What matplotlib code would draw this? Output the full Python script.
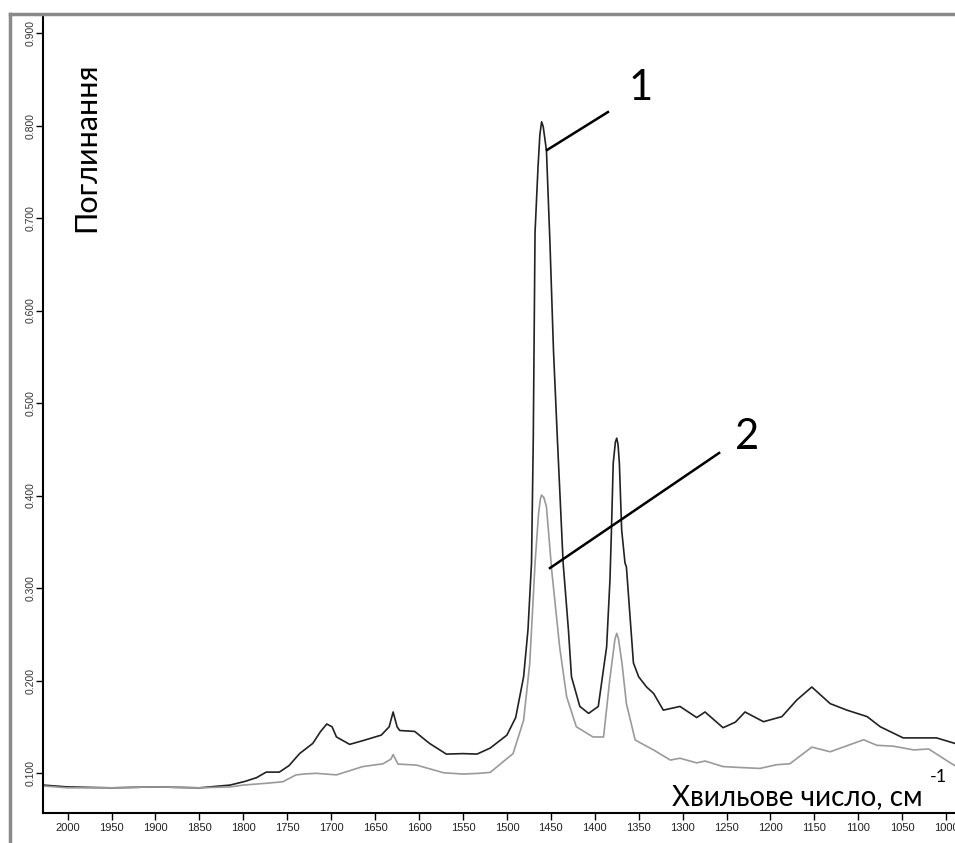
import numpy as np
import matplotlib.pyplot as plt
from matplotlib.lines import Line2D

# Спектр 1 (темна крива)
wn1 = [2028, 2000, 1950, 1900, 1850, 1815, 1798, 1785, 1774, 1759, 1748, 1736, 1721, 1712,
       1705, 1699, 1694, 1679, 1664, 1643, 1634, 1629.5, 1625, 1622, 1605, 1588, 1569, 1550,
       1534, 1519, 1500, 1490, 1481, 1476, 1472, 1470, 1468, 1464.6, 1462.5, 1460.5, 1458.7,
       1455, 1451, 1447, 1442.5, 1436, 1430, 1426.5, 1417, 1407, 1396, 1386.5, 1382.7, 1381,
       1379, 1376.5, 1375, 1373.5, 1372, 1369.4, 1365.6, 1364, 1356, 1350, 1341, 1333, 1322,
       1303, 1284, 1274.5, 1254, 1240, 1229, 1208, 1187, 1170, 1153, 1132, 1113, 1090, 1075,
       1049, 1026, 1011, 997, 990]
abs1 = [0.087, 0.085, 0.084, 0.085, 0.084, 0.087, 0.091, 0.095, 0.101, 0.101, 0.108, 0.121,
        0.132, 0.145, 0.153, 0.150, 0.139, 0.131, 0.135, 0.141, 0.150, 0.166, 0.150, 0.146,
        0.145, 0.132, 0.1205, 0.121, 0.1205, 0.127, 0.141, 0.160, 0.204, 0.255, 0.327, 0.46,
        0.684, 0.755, 0.790, 0.804, 0.799, 0.773, 0.673, 0.557, 0.46, 0.327, 0.255, 0.204,
        0.172, 0.1645, 0.172, 0.2365, 0.309, 0.363, 0.435, 0.458, 0.462, 0.455, 0.435, 0.363,
        0.327, 0.323, 0.219, 0.204, 0.193, 0.186, 0.168, 0.172, 0.160, 0.166, 0.149, 0.155,
        0.166, 0.1555, 0.161, 0.179, 0.193, 0.175, 0.168, 0.161, 0.150, 0.138, 0.138, 0.138,
        0.134, 0.132]

# Спектр 2 (світла крива)
wn2 = [2028, 2000, 1950, 1900, 1850, 1815, 1800, 1773, 1755, 1740, 1730, 1717, 1694, 1664,
       1641, 1632, 1629.5, 1624, 1603, 1572, 1550, 1531, 1519, 1493, 1481, 1474, 1468, 1464,
       1462, 1460.5, 1458, 1455, 1449, 1440, 1432, 1421, 1402, 1390, 1383, 1377, 1375, 1373,
       1369, 1364, 1354, 1333, 1314, 1303, 1284, 1274.5, 1254, 1235, 1212, 1193, 1178, 1153,
       1132, 1094, 1079, 1060, 1037, 1020, 997, 990]
abs2 = [0.086, 0.084, 0.084, 0.085, 0.084, 0.085, 0.087, 0.089, 0.0906, 0.098, 0.099, 0.0997,
        0.098, 0.107, 0.110, 0.115, 0.120, 0.1097, 0.1086, 0.1003, 0.0989, 0.0997, 0.1007,
        0.121, 0.157, 0.2186, 0.3265, 0.38, 0.396, 0.4005, 0.398, 0.388, 0.319, 0.2365,
        0.1825, 0.150, 0.139, 0.139, 0.2005, 0.245, 0.251, 0.245, 0.2186, 0.175, 0.1357,
        0.1249, 0.114, 0.116, 0.111, 0.113, 0.107, 0.106, 0.105, 0.109, 0.110, 0.128, 0.123,
        0.136, 0.130, 0.129, 0.125, 0.126, 0.112, 0.108]

xticks = np.arange(2000, 999, -50)
yticks = np.arange(0.1, 0.91, 0.1)

W, H = 955, 843
fig = plt.figure(figsize=(W / 100, H / 100), dpi=100)

def fx(px):
    return px / W

def fy(py):
    return 1 - py / H

ax = fig.add_axes([fx(43), fy(813), 1 - fx(43), fy(15) - fy(813)])
ax.plot(wn1, abs1, color='#222222', lw=1.2)
ax.plot(wn2, abs2, color='#9a9a9a', lw=1.2)

ax.set_xlim(2028, 990)
ax.set_ylim(0.0568, 0.9195)
ax.set_xticks(xticks)
ax.set_xticklabels([str(t) for t in xticks], fontsize=8, family='Liberation Sans', color='#222222')
ax.set_yticks(yticks)
ax.set_yticklabels(['%.3f' % t for t in yticks], fontsize=7.5, family='Liberation Sans',
                   color='#333333', rotation=90, va='center')
ax.tick_params(axis='both', direction='out', length=5, width=1, pad=2)
ax.tick_params(axis='y', pad=0)
for s in ['top', 'right']:
    ax.spines[s].set_visible(False)
for s in ['left', 'bottom']:
    ax.spines[s].set_linewidth(1.5)

# Підписи кривих
ax.plot([1454.4, 1385], [0.7735, 0.8146], color='black', lw=1.8)
ax.plot([1451, 1258.5], [0.3216, 0.446], color='black', lw=1.8)
ax.text(1347.4, 0.8405, '1', fontsize=30, family='Lato', ha='center', va='center')
ax.text(1226.7, 0.463, '2', fontsize=30, family='Lato', ha='center', va='center')

# Підписи осей
fig.text(fx(86), fy(147), 'Поглинання', fontsize=22, family='Lato', rotation=90,
         ha='center', va='center')
fig.text(fx(923), fy(805), 'Хвильове число, см', fontsize=20, family='Lato',
         ha='right', va='baseline')
fig.text(fx(930), fy(782), '-1', fontsize=13, family='Lato', ha='left', va='baseline')

# Рамка
fig.add_artist(Line2D([fx(10), fx(10)], [fy(14), 0], color='#8a8a8a', lw=2.5))
fig.add_artist(Line2D([fx(10), 1], [fy(14), fy(14)], color='#8a8a8a', lw=2.5))

fig.savefig('out.png', dpi=100)
